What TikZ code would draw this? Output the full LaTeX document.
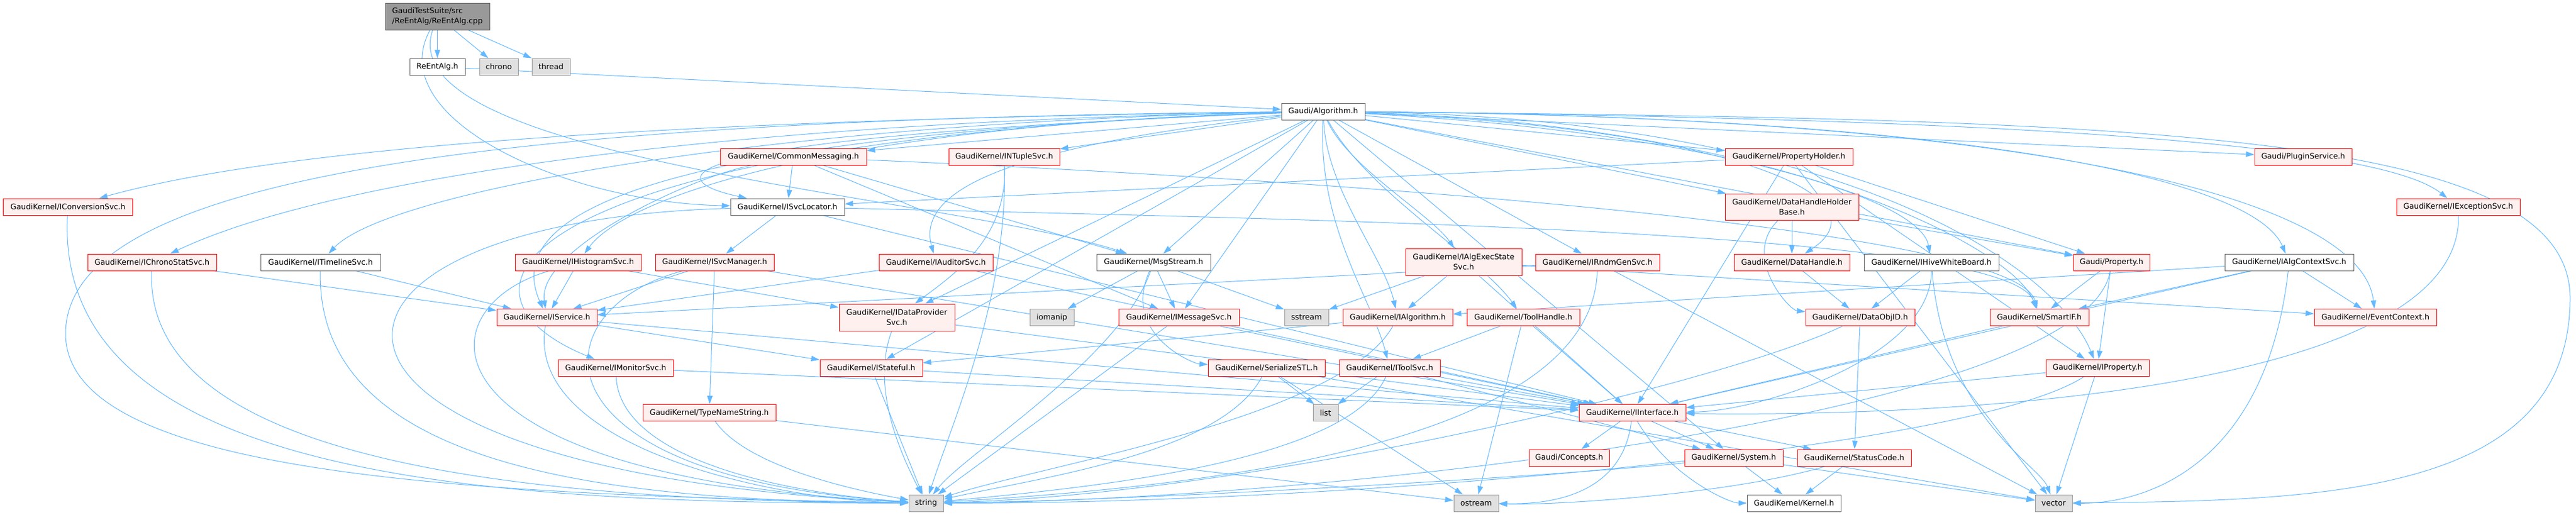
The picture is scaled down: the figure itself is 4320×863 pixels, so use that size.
\documentclass[tikz,border=0pt]{standalone}
\usepackage{fontspec}
\setmainfont{DejaVu Sans}
\usetikzlibrary{arrows.meta,backgrounds}
\definecolor{edgeblue}{HTML}{63B8FF}
\definecolor{hdrred}{HTML}{FF0000}
\definecolor{hdrpink}{HTML}{FFF0F0}
\definecolor{boxgrey}{HTML}{666666}
\definecolor{sysgrey}{HTML}{999999}
\definecolor{sysfill}{HTML}{E0E0E0}
\definecolor{rootfill}{HTML}{999999}
\begin{document}
\begin{tikzpicture}[x=1pt, y=-1pt,
    hfile/.style={rectangle, draw, line width=1pt, inner xsep=2pt, inner ysep=1pt, minimum height=28pt, align=center, font=\fontsize{12.8}{16.7}\selectfont},
    redfile/.style={hfile, draw=hdrred, fill=hdrpink},
    whitefile/.style={hfile, draw=boxgrey, fill=white},
    sysfile/.style={hfile, draw=sysgrey, fill=sysfill},
    rootfile/.style={hfile, draw=boxgrey, fill=rootfill, align=left},
    dep/.style={-{Triangle[length=14pt,width=9pt]}, draw=edgeblue, line width=1pt}]
  \useasboundingbox (0,0) rectangle (4320,863);
  \node[rootfile, minimum width=175pt, minimum height=45pt] (root) at (733.5,27.5) {GaudiTestSuite/src\\/ReEntAlg/ReEntAlg.cpp};
  \node[whitefile, minimum width=93pt] (reentalg) at (733.5,112) {ReEntAlg.h};
  \node[sysfile, minimum width=65pt] (chrono) at (836.5,112) {chrono};
  \node[sysfile, minimum width=64pt] (thread) at (924,112) {thread};
  \node[whitefile, minimum width=140pt] (algorithm) at (2219,187) {Gaudi/Algorithm.h};
  \node[redfile, minimum width=245pt] (commonmsg) at (1330.5,263) {GaudiKernel/CommonMessaging.h};
  \node[redfile, minimum width=186pt] (ntuple) at (1684,263) {GaudiKernel/INTupleSvc.h};
  \node[redfile, minimum width=214pt] (propholder) at (3000,263) {GaudiKernel/PropertyHolder.h};
  \node[redfile, minimum width=163pt] (plugin) at (3862.5,263) {Gaudi/PluginService.h};
  \node[redfile, minimum width=217pt] (conversion) at (114,347) {GaudiKernel/IConversionSvc.h};
  \node[whitefile, minimum width=191pt] (svclocator) at (1320.5,347) {GaudiKernel/ISvcLocator.h};
  \node[redfile, minimum width=224pt, minimum height=44pt] (dhholder) at (3005,347) {GaudiKernel/DataHandleHolder\\Base.h};
  \node[redfile, minimum width=207pt] (exception) at (4122.5,347) {GaudiKernel/IExceptionSvc.h};
  \node[redfile, minimum width=216pt] (chronostat) at (255,440) {GaudiKernel/IChronoStatSvc.h};
  \node[whitefile, minimum width=201pt] (timeline) at (537.5,440) {GaudiKernel/ITimelineSvc.h};
  \node[redfile, minimum width=211pt] (histogram) at (969.5,440) {GaudiKernel/IHistogramSvc.h};
  \node[redfile, minimum width=199pt] (svcmanager) at (1198.5,440) {GaudiKernel/ISvcManager.h};
  \node[redfile, minimum width=191pt] (auditor) at (1569.5,440) {GaudiKernel/IAuditorSvc.h};
  \node[whitefile, minimum width=191pt] (msgstream) at (1934.5,440) {GaudiKernel/MsgStream.h};
  \node[redfile, minimum width=195pt, minimum height=45pt] (algexec) at (2454.5,439.5) {GaudiKernel/IAlgExecState\\Svc.h};
  \node[redfile, minimum width=208pt] (rndm) at (2679,440) {GaudiKernel/IRndmGenSvc.h};
  \node[redfile, minimum width=194pt] (datahandle) at (3005,440) {GaudiKernel/DataHandle.h};
  \node[whitefile, minimum width=226pt] (hivewb) at (3239,440) {GaudiKernel/IHiveWhiteBoard.h};
  \node[redfile, minimum width=128pt] (property) at (3541,440) {Gaudi/Property.h};
  \node[whitefile, minimum width=216pt] (algcontext) at (3839,440) {GaudiKernel/IAlgContextSvc.h};
  \node[redfile, minimum width=168pt] (service) at (917,532.5) {GaudiKernel/IService.h};
  \node[redfile, minimum width=194pt, minimum height=45pt] (dataprovider) at (1504,532.5) {GaudiKernel/IDataProvider\\Svc.h};
  \node[sysfile, minimum width=74pt] (iomanip) at (1764,532.5) {iomanip};
  \node[redfile, minimum width=202pt] (messagesvc) at (1977,532.5) {GaudiKernel/IMessageSvc.h};
  \node[sysfile, minimum width=74pt] (sstream) at (2191,532.5) {sstream};
  \node[redfile, minimum width=184pt] (ialgorithm) at (2344,532.5) {GaudiKernel/IAlgorithm.h};
  \node[redfile, minimum width=189pt] (toolhandle) at (2554.5,532.5) {GaudiKernel/ToolHandle.h};
  \node[redfile, minimum width=183pt] (dataobjid) at (3119.5,532.5) {GaudiKernel/DataObjID.h};
  \node[redfile, minimum width=166pt] (smartif) at (3420,532.5) {GaudiKernel/SmartIF.h};
  \node[redfile, minimum width=205pt] (eventcontext) at (3983.5,532.5) {GaudiKernel/EventContext.h};
  \node[redfile, minimum width=193pt] (monitor) at (1032.5,617) {GaudiKernel/IMonitorSvc.h};
  \node[redfile, minimum width=172pt] (stateful) at (1461,617) {GaudiKernel/IStateful.h};
  \node[redfile, minimum width=196pt] (serialize) at (2124,617) {GaudiKernel/SerializeSTL.h};
  \node[redfile, minimum width=169pt] (toolsvc) at (2330.5,617) {GaudiKernel/IToolSvc.h};
  \node[redfile, minimum width=173pt] (iproperty) at (3517.5,617) {GaudiKernel/IProperty.h};
  \node[redfile, minimum width=223pt] (typename) at (1189.5,692.5) {GaudiKernel/TypeNameString.h};
  \node[sysfile, minimum width=42pt] (list) at (2223,692.5) {list};
  \node[redfile, minimum width=179pt] (interface) at (2737.5,692.5) {GaudiKernel/IInterface.h};
  \node[redfile, minimum width=135pt] (concepts) at (2631.5,768) {Gaudi/Concepts.h};
  \node[redfile, minimum width=165pt] (system) at (2907.5,768) {GaudiKernel/System.h};
  \node[redfile, minimum width=191pt] (statuscode) at (3109.5,768) {GaudiKernel/StatusCode.h};
  \node[sysfile, minimum width=58pt] (string) at (1553,844) {string};
  \node[sysfile, minimum width=75pt] (ostream) at (2475.5,844) {ostream};
  \node[whitefile, minimum width=157pt] (kernel) at (3008.5,844) {GaudiKernel/Kernel.h};
  \node[sysfile, minimum width=62pt] (vector) at (3444,844) {vector};
  \begin{pgfonlayer}{background}
  \draw[dep] (root) -- (reentalg);
  \draw[dep] (root) -- (chrono);
  \draw[dep] (root) -- (thread);
  \draw[dep] (root) .. controls (640,200) and (950,340) .. (svclocator);
  \draw[dep] (root) .. controls (650,270) and (1600,330) .. (msgstream);
  \draw[dep] (reentalg) -- (algorithm);
  \draw[dep] (algorithm) .. controls (1200,200) and (500,240) .. (conversion);
  \draw[dep] (algorithm) .. controls (1200,205) and (550,300) .. (chronostat);
  \draw[dep] (algorithm) .. controls (1300,205) and (650,320) .. (timeline);
  \draw[dep] (algorithm) .. controls (1400,210) and (1050,330) .. (histogram);
  \draw[dep] (algorithm) .. controls (1000,230) and (850,380) .. (service);
  \draw[dep] (algorithm) .. controls (900,230) and (700,480) .. (monitor);
  \draw[dep] (algorithm) .. controls (1100,230) and (1100,300) .. (svclocator);
  \draw[dep] (algorithm) -- (commonmsg);
  \draw[dep] (algorithm) -- (ntuple);
  \draw[dep] (algorithm) .. controls (1650,250) and (1540,330) .. (auditor);
  \draw[dep] (algorithm) -- (dataprovider);
  \draw[dep] (algorithm) -- (stateful);
  \draw[dep] (algorithm) -- (msgstream);
  \draw[dep] (algorithm) -- (messagesvc);
  \draw[dep] (algorithm) .. controls (2260,280) and (2400,360) .. (algexec);
  \draw[dep] (algorithm) -- (rndm);
  \draw[dep] (algorithm) .. controls (2225,320) and (2320,430) .. (ialgorithm);
  \draw[dep] (algorithm) .. controls (2290,320) and (2480,430) .. (toolhandle);
  \draw[dep] (algorithm) .. controls (2210,380) and (2300,500) .. (toolsvc);
  \draw[dep] (algorithm) -- (propholder);
  \draw[dep] (algorithm) -- (dhholder);
  \draw[dep] (algorithm) .. controls (2900,215) and (3170,330) .. (datahandle);
  \draw[dep] (algorithm) .. controls (2850,220) and (3220,330) .. (hivewb);
  \draw[dep] (algorithm) -- (property);
  \draw[dep] (algorithm) .. controls (3100,200) and (3450,450) .. (iproperty);
  \draw[dep] (algorithm) .. controls (3000,210) and (3380,420) .. (smartif);
  \draw[dep] (algorithm) -- (plugin);
  \draw[dep] (algorithm) .. controls (3500,200) and (4000,250) .. (exception);
  \draw[dep] (algorithm) .. controls (3300,195) and (3780,300) .. (algcontext);
  \draw[dep] (algorithm) .. controls (3400,195) and (3960,330) .. (eventcontext);
  \draw[dep] (algorithm) -- (system);
  \draw[dep] (algorithm) .. controls (800,200) and (110,300) .. (110,560) .. controls (110,800) and (800,830) .. (string);
  \draw[dep] (algorithm) .. controls (3600,200) and (4310,220) .. (4310,500) .. controls (4310,830) and (3900,840) .. (vector);
  \draw[dep] (commonmsg) -- (svclocator);
  \draw[dep] (commonmsg) -- (msgstream);
  \draw[dep] (commonmsg) -- (messagesvc);
  \draw[dep] (commonmsg) .. controls (1150,300) and (900,420) .. (service);
  \draw[dep] (commonmsg) .. controls (2200,300) and (3380,380) .. (smartif);
  \draw[dep] (ntuple) .. controls (1690,400) and (1600,460) .. (dataprovider);
  \draw[dep] (ntuple) .. controls (1690,500) and (1600,700) .. (string);
  \draw[dep] (svclocator) -- (svcmanager);
  \draw[dep] (svclocator) .. controls (2300,370) and (3370,390) .. (smartif);
  \draw[dep] (svclocator) -- (interface);
  \draw[dep] (svclocator) .. controls (450,370) and (400,790) .. (string);
  \draw[dep] (svcmanager) -- (service);
  \draw[dep] (svcmanager) -- (typename);
  \draw[dep] (svcmanager) .. controls (900,520) and (880,800) .. (string);
  \draw[dep] (svcmanager) -- (interface);
  \draw[dep] (service) -- (stateful);
  \draw[dep] (service) .. controls (880,750) and (1300,840) .. (string);
  \draw[dep] (service) -- (interface);
  \draw[dep] (histogram) -- (service);
  \draw[dep] (histogram) -- (dataprovider);
  \draw[dep] (histogram) .. controls (700,520) and (700,800) .. (string);
  \draw[dep] (chronostat) -- (service);
  \draw[dep] (chronostat) .. controls (240,780) and (900,840) .. (string);
  \draw[dep] (timeline) -- (service);
  \draw[dep] (timeline) .. controls (530,780) and (1000,840) .. (string);
  \draw[dep] (conversion) .. controls (90,800) and (800,845) .. (string);
  \draw[dep] (monitor) -- (interface);
  \draw[dep] (monitor) .. controls (1040,780) and (1350,830) .. (string);
  \draw[dep] (typename) .. controls (1250,780) and (1420,820) .. (string);
  \draw[dep] (typename) -- (ostream);
  \draw[dep] (dataprovider) -- (interface);
  \draw[dep] (dataprovider) .. controls (1460,650) and (1510,760) .. (string);
  \draw[dep] (stateful) -- (interface);
  \draw[dep] (stateful) -- (string);
  \draw[dep] (auditor) -- (service);
  \draw[dep] (auditor) -- (interface);
  \draw[dep] (msgstream) -- (iomanip);
  \draw[dep] (msgstream) -- (messagesvc);
  \draw[dep] (msgstream) -- (sstream);
  \draw[dep] (msgstream) .. controls (1880,560) and (2000,610) .. (serialize);
  \draw[dep] (msgstream) .. controls (1880,600) and (1620,760) .. (string);
  \draw[dep] (messagesvc) -- (interface);
  \draw[dep] (messagesvc) -- (string);
  \draw[dep] (serialize) -- (list);
  \draw[dep] (serialize) -- (ostream);
  \draw[dep] (serialize) -- (vector);
  \draw[dep] (serialize) .. controls (2050,760) and (1750,800) .. (string);
  \draw[dep] (algexec) -- (sstream);
  \draw[dep] (algexec) -- (ialgorithm);
  \draw[dep] (algexec) -- (interface);
  \draw[dep] (algexec) -- (eventcontext);
  \draw[dep] (rndm) -- (service);
  \draw[dep] (rndm) .. controls (2670,760) and (1950,820) .. (string);
  \draw[dep] (rndm) -- (vector);
  \draw[dep] (ialgorithm) -- (stateful);
  \draw[dep] (ialgorithm) .. controls (2250,700) and (1750,780) .. (string);
  \draw[dep] (toolhandle) -- (toolsvc);
  \draw[dep] (toolhandle) -- (ostream);
  \draw[dep] (toolhandle) -- (interface);
  \draw[dep] (toolsvc) -- (list);
  \draw[dep] (toolsvc) .. controls (2260,780) and (1800,820) .. (string);
  \draw[dep] (toolsvc) -- (system);
  \draw[dep] (toolsvc) -- (interface);
  \draw[dep] (interface) -- (concepts);
  \draw[dep] (interface) .. controls (2720,840) and (2580,846) .. (ostream);
  \draw[dep] (interface) -- (system);
  \draw[dep] (interface) -- (statuscode);
  \draw[dep] (interface) .. controls (2800,800) and (2900,844) .. (kernel);
  \draw[dep] (system) -- (kernel);
  \draw[dep] (system) -- (vector);
  \draw[dep] (system) .. controls (2600,800) and (1900,840) .. (string);
  \draw[dep] (statuscode) -- (kernel);
  \draw[dep] (statuscode) .. controls (2900,830) and (2600,848) .. (ostream);
  \draw[dep] (propholder) -- (property);
  \draw[dep] (propholder) -- (iproperty);
  \draw[dep] (propholder) -- (svclocator);
  \draw[dep] (propholder) -- (interface);
  \draw[dep] (propholder) -- (vector);
  \draw[dep] (dhholder) -- (datahandle);
  \draw[dep] (dhholder) .. controls (2920,430) and (3000,520) .. (dataobjid);
  \draw[dep] (dhholder) -- (property);
  \draw[dep] (datahandle) -- (dataobjid);
  \draw[dep] (hivewb) -- (dataobjid);
  \draw[dep] (hivewb) .. controls (3239,600) and (2950,690) .. (interface);
  \draw[dep] (hivewb) .. controls (3260,700) and (3420,780) .. (vector);
  \draw[dep] (property) -- (iproperty);
  \draw[dep] (property) -- (smartif);
  \draw[dep] (property) .. controls (3500,700) and (2200,840) .. (string);
  \draw[dep] (iproperty) -- (interface);
  \draw[dep] (iproperty) -- (vector);
  \draw[dep] (iproperty) .. controls (3300,760) and (2200,846) .. (string);
  \draw[dep] (smartif) -- (interface);
  \draw[dep] (dataobjid) -- (statuscode);
  \draw[dep] (dataobjid) .. controls (2900,640) and (2100,830) .. (string);
  \draw[dep] (algcontext) -- (ialgorithm);
  \draw[dep] (algcontext) -- (smartif);
  \draw[dep] (algcontext) -- (eventcontext);
  \draw[dep] (algcontext) -- (interface);
  \draw[dep] (algcontext) .. controls (3800,780) and (3600,845) .. (vector);
  \draw[dep] (exception) .. controls (4130,650) and (3300,700) .. (interface);
  \end{pgfonlayer}
\end{tikzpicture}
\end{document}
